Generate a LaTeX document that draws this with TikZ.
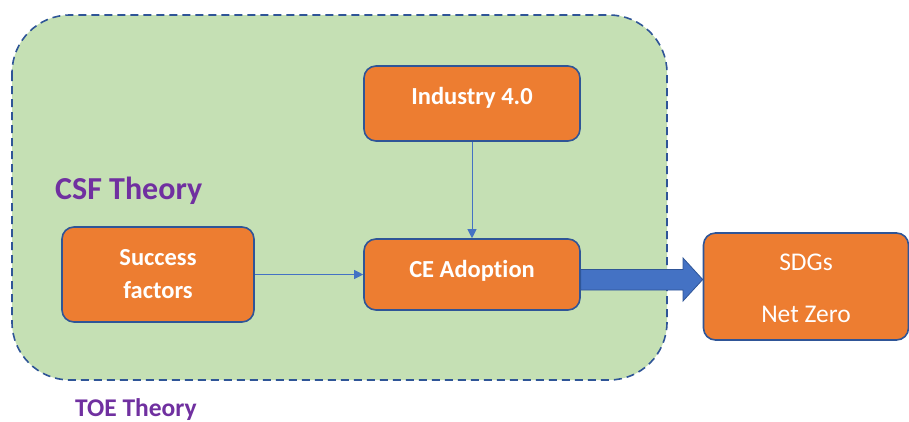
\documentclass[tikz,border=0pt]{standalone}
\usepackage{fontspec}
\setmainfont{Carlito}[Ligatures=NoCommon]
\usetikzlibrary{shapes.arrows,arrows.meta}
\definecolor{boxorange}{HTML}{ED7D31}
\definecolor{boxline}{HTML}{2F5597}
\definecolor{bggreen}{HTML}{C5E0B4}
\definecolor{arrblue}{HTML}{4472C4}
\definecolor{theorypurple}{HTML}{7030A0}
\tikzset{
  box/.style={draw=boxline, line width=1.6pt, fill=boxorange, rounded corners=12pt, text=white, font=\fontsize{24.5}{33}\selectfont\bfseries, align=center, inner sep=0pt},
  thin/.style={draw=arrblue, line width=0.9pt, -{Triangle[length=9pt,width=9pt]}},
  theory/.style={text=theorypurple, anchor=base west, inner sep=0pt}
}
\begin{document}
\begin{tikzpicture}[x=1pt,y=-1pt]
\useasboundingbox (0,0) rectangle (909,421);
\fill[white] (0,0) rectangle (909,421);
\draw[draw=boxline, line width=1.6pt, dash pattern=on 8pt off 5pt, fill=bggreen, rounded corners=58pt] (12,15) rectangle (667,380);
\node[box, minimum width=216pt, minimum height=75pt] (ind) at (472,103.5) {\raisebox{15pt}{Industry 4.0}};
\node[box, minimum width=216pt, minimum height=71pt] (ce) at (472,274.5) {\raisebox{11pt}{CE Adoption}};
\node[box, minimum width=192pt, minimum height=95pt] (sf) at (158,274.5) {Success\\factors};
\node[box, minimum width=205pt, minimum height=107pt, font=\fontsize{25.5}{52}\selectfont] (sdg) at (806,286.5) {\rule{0pt}{21pt}SDGs\\Net Zero};
\node[theory, font=\fontsize{32}{38}\selectfont\bfseries] (csf) at (55,199) {CSF Theory};
\node[theory, font=\fontsize{25.5}{30}\selectfont\bfseries] (toe) at (75,416) {TOE Theory};
\draw[thin] (ind.south) -- (ce.north);
\draw[thin] (sf.east) -- (ce.west);
\fill[arrblue, draw=boxline, line width=0.8pt] (ce.east |- 0,269.5) -- (683,269.5) -- (683,258) -- (sdg.west |- 0,279.5) -- (683,301) -- (683,290) -- (ce.east |- 0,290) -- cycle;
\end{tikzpicture}
\end{document}
